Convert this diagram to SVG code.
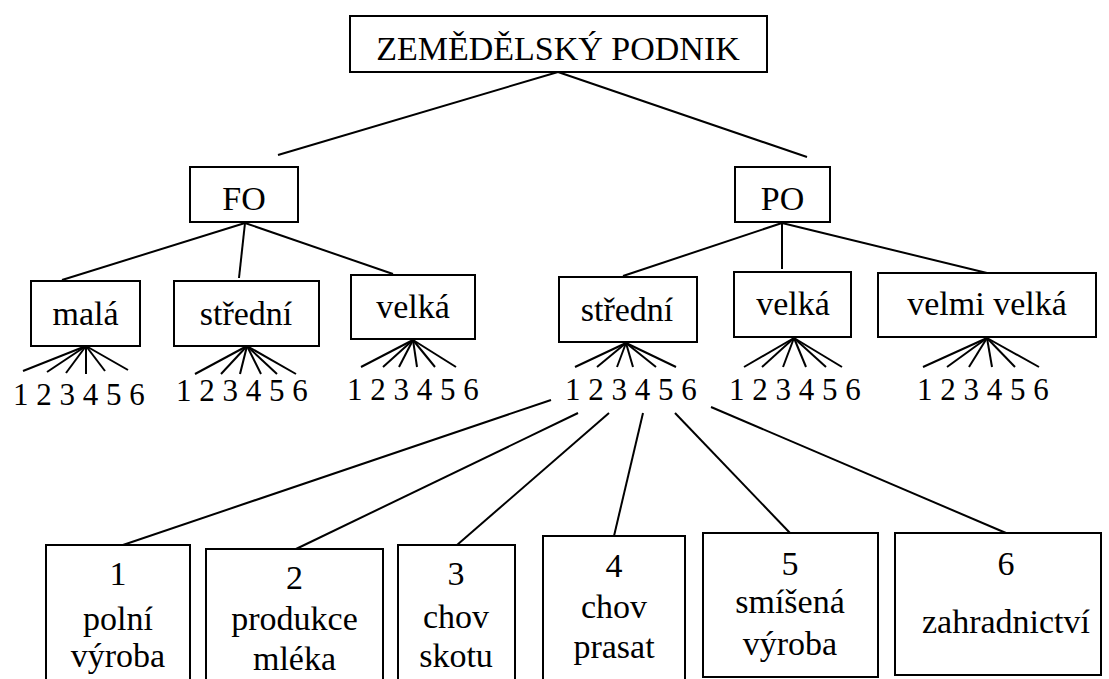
<svg xmlns="http://www.w3.org/2000/svg" width="1109" height="679" viewBox="0 0 1109 679">
<defs>
<style>
rect{fill:#fff;stroke:#000;stroke-width:2}
line{stroke:#000;stroke-width:2}
</style>
</defs>
<rect x="0" y="0" width="1109" height="679" style="stroke:none"/>
<g id="connectors">
<line x1="558" y1="72" x2="278" y2="155"/>
<line x1="558" y1="72" x2="807" y2="157"/>
<line x1="245" y1="223" x2="62" y2="280"/>
<line x1="245" y1="223" x2="239" y2="278"/>
<line x1="245" y1="223" x2="393" y2="274"/>
<line x1="782" y1="223" x2="623" y2="276"/>
<line x1="782" y1="223" x2="782" y2="269"/>
<line x1="782" y1="223" x2="987" y2="273"/>
<line x1="551" y1="400" x2="120" y2="546"/>
<line x1="578" y1="413" x2="296" y2="549"/>
<line x1="609" y1="413" x2="457" y2="545"/>
<line x1="643" y1="413" x2="614" y2="536"/>
<line x1="675" y1="413" x2="790" y2="533"/>
<line x1="711" y1="407" x2="1006" y2="533"/>
</g>
<g id="root"><rect x="350" y="16" width="417" height="56"/><text x="558" y="60" font-family="Liberation Serif" font-size="34" text-anchor="middle">ZEMĚDĚLSKÝ PODNIK</text></g>
<g id="fo"><rect x="190" y="167" width="108" height="55"/><text x="244" y="210" font-family="Liberation Serif" font-size="34" text-anchor="middle">FO</text></g>
<g id="po"><rect x="735" y="167" width="95" height="55"/><text x="782.5" y="210" font-family="Liberation Serif" font-size="34" text-anchor="middle">PO</text></g>
<g id="fo-mala"><rect x="31" y="281" width="109" height="65"/><text x="85.5" y="325" font-family="Liberation Serif" font-size="34" text-anchor="middle">malá</text>
<line x1="86" y1="346" x2="23" y2="371"/><line x1="86" y1="346" x2="47" y2="372"/><line x1="86" y1="346" x2="66" y2="373"/><line x1="86" y1="346" x2="86" y2="374"/><line x1="86" y1="346" x2="105" y2="371"/><line x1="86" y1="346" x2="128" y2="370"/>
<text x="13" y="405" font-family="Liberation Serif" font-size="31">1 2 3 4 5 6</text></g>
<g id="fo-stredni"><rect x="174" y="281" width="145" height="65"/><text x="246" y="325" font-family="Liberation Serif" font-size="34" text-anchor="middle">střední</text>
<line x1="247" y1="346" x2="195" y2="374"/><line x1="247" y1="346" x2="221" y2="374"/><line x1="247" y1="346" x2="240" y2="374"/><line x1="247" y1="346" x2="261" y2="374"/><line x1="247" y1="346" x2="277" y2="374"/><line x1="247" y1="346" x2="296" y2="374"/>
<text x="176" y="401" font-family="Liberation Serif" font-size="31">1 2 3 4 5 6</text></g>
<g id="fo-velka"><rect x="351" y="275" width="124" height="64"/><text x="413" y="318" font-family="Liberation Serif" font-size="34" text-anchor="middle">velká</text>
<line x1="413" y1="340" x2="361" y2="367"/><line x1="413" y1="340" x2="383" y2="367"/><line x1="413" y1="340" x2="399" y2="367"/><line x1="413" y1="340" x2="417" y2="367"/><line x1="413" y1="340" x2="435" y2="367"/><line x1="413" y1="340" x2="456" y2="367"/>
<text x="347" y="400" font-family="Liberation Serif" font-size="31">1 2 3 4 5 6</text></g>
<g id="po-stredni"><rect x="559" y="277" width="138" height="65"/><text x="627" y="321" font-family="Liberation Serif" font-size="34" text-anchor="middle">střední</text>
<line x1="626" y1="343" x2="575" y2="367"/><line x1="626" y1="343" x2="597" y2="367"/><line x1="626" y1="343" x2="617" y2="367"/><line x1="626" y1="343" x2="633" y2="367"/><line x1="626" y1="343" x2="656" y2="367"/><line x1="626" y1="343" x2="676" y2="367"/>
<text x="565" y="400" font-family="Liberation Serif" font-size="31">1 2 3 4 5 6</text></g>
<g id="po-velka"><rect x="734" y="272" width="117" height="65"/><text x="793" y="315" font-family="Liberation Serif" font-size="34" text-anchor="middle">velká</text>
<line x1="794" y1="338" x2="744" y2="367"/><line x1="794" y1="338" x2="762" y2="367"/><line x1="794" y1="338" x2="783" y2="367"/><line x1="794" y1="338" x2="806" y2="367"/><line x1="794" y1="338" x2="826" y2="367"/><line x1="794" y1="338" x2="842" y2="367"/>
<text x="729" y="400" font-family="Liberation Serif" font-size="31">1 2 3 4 5 6</text></g>
<g id="po-velmi-velka"><rect x="878" y="273" width="218" height="64"/><text x="987" y="315" font-family="Liberation Serif" font-size="34" text-anchor="middle">velmi velká</text>
<line x1="987" y1="338" x2="923" y2="367"/><line x1="987" y1="338" x2="947" y2="367"/><line x1="987" y1="338" x2="969" y2="367"/><line x1="987" y1="338" x2="992" y2="367"/><line x1="987" y1="338" x2="1015" y2="367"/><line x1="987" y1="338" x2="1039" y2="367"/>
<text x="917" y="400" font-family="Liberation Serif" font-size="31">1 2 3 4 5 6</text></g>
<g id="b1" font-family="Liberation Serif" font-size="34" text-anchor="middle"><rect x="46" y="545" width="144" height="150"/><text x="118" y="585">1</text><text x="118" y="630">polní</text><text x="118" y="667">výroba</text></g>
<g id="b2" font-family="Liberation Serif" font-size="34" text-anchor="middle"><rect x="206" y="549" width="177" height="150"/><text x="294.5" y="589">2</text><text x="294.5" y="630">produkce</text><text x="294.5" y="670">mléka</text></g>
<g id="b3" font-family="Liberation Serif" font-size="34" text-anchor="middle"><rect x="398" y="545" width="117" height="150"/><text x="456" y="585">3</text><text x="456" y="628">chov</text><text x="456" y="667">skotu</text></g>
<g id="b4" font-family="Liberation Serif" font-size="34" text-anchor="middle"><rect x="543" y="536" width="142" height="160"/><text x="614" y="577">4</text><text x="614" y="618">chov</text><text x="614" y="658">prasat</text></g>
<g id="b5" font-family="Liberation Serif" font-size="34" text-anchor="middle"><rect x="703" y="533" width="175" height="144"/><text x="790" y="575">5</text><text x="790" y="613">smíšená</text><text x="790" y="655">výroba</text></g>
<g id="b6" font-family="Liberation Serif" font-size="34" text-anchor="middle"><rect x="895" y="533" width="206" height="142"/><text x="1006" y="575">6</text><text x="1006" y="633">zahradnictví</text></g>
</svg>
